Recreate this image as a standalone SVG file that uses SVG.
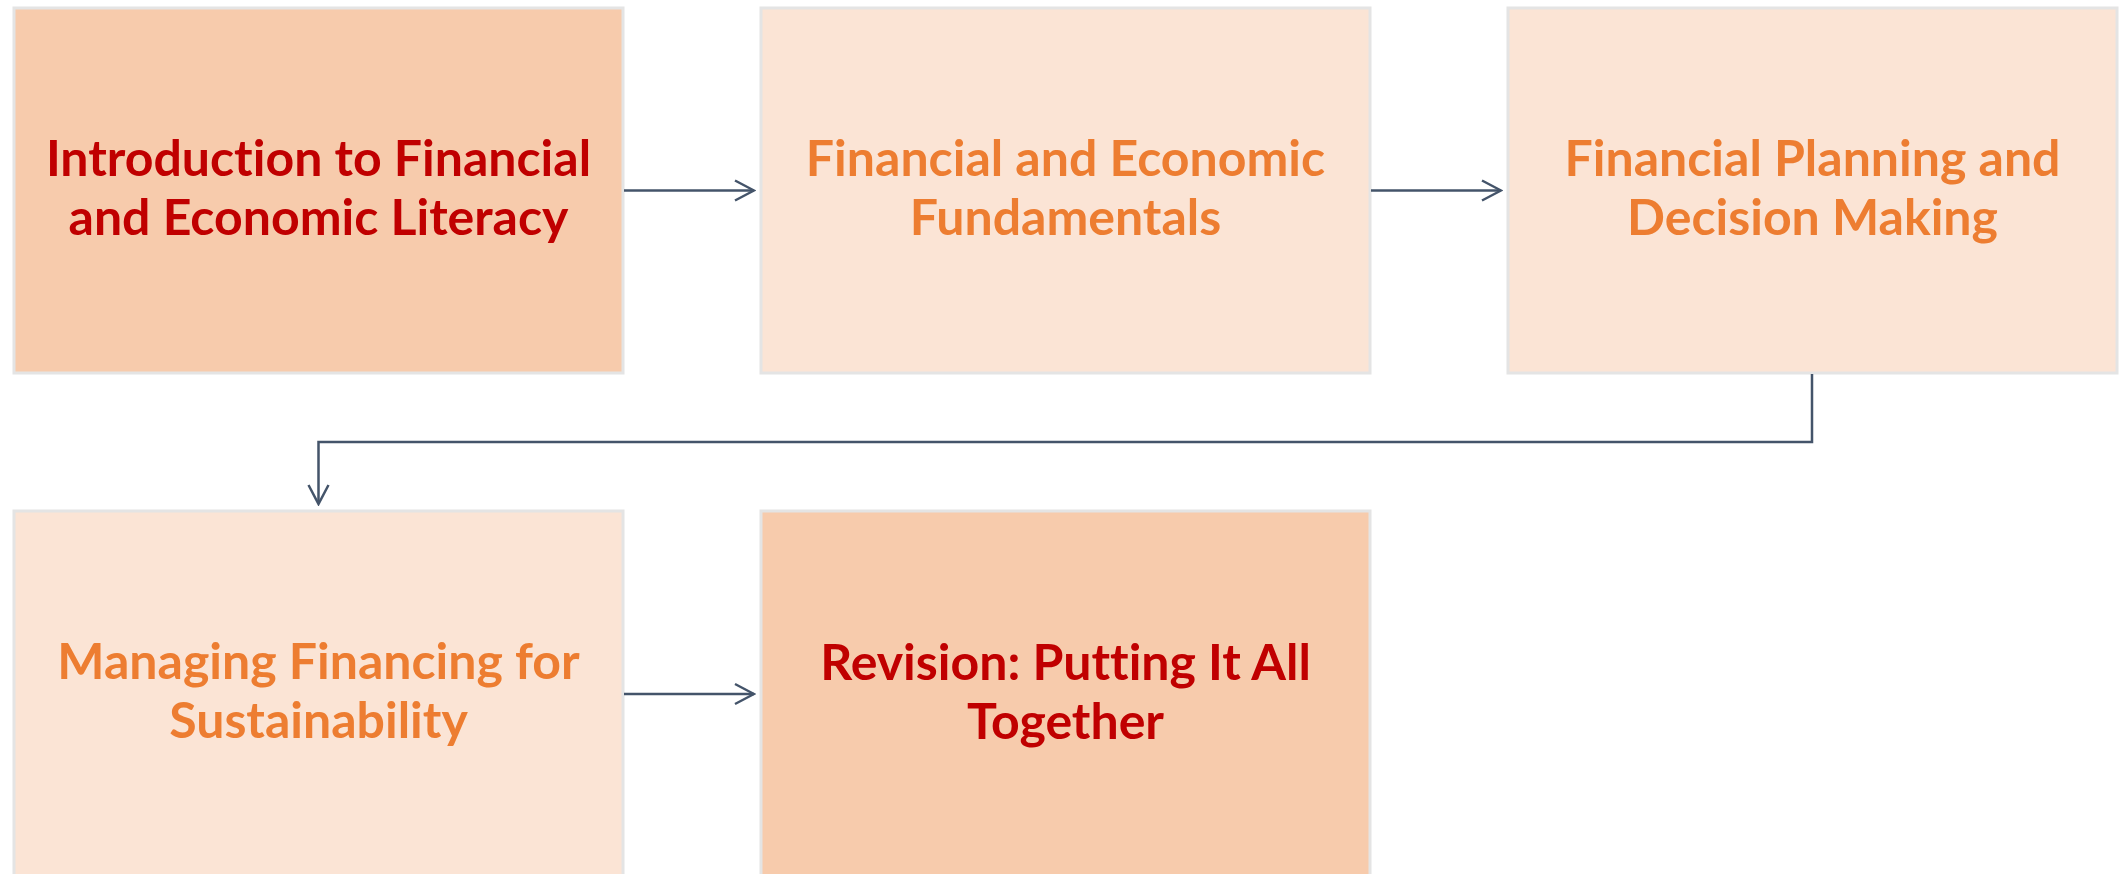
<svg xmlns="http://www.w3.org/2000/svg" width="2121" height="874" viewBox="0 0 2121 874">
  <style>
    .box { stroke: #e4e4e4; stroke-width: 3; }
    .dark { fill: #f7cbac; }
    .light { fill: #fbe4d5; }
    .label { font-family: Lato, "Liberation Sans", sans-serif; font-weight: bold; font-size: 50px; text-anchor: middle; font-variant-ligatures: none; }
    .red { fill: #c00000; }
    .orange { fill: #ed7d31; }
    .conn { fill: none; stroke: #44546a; stroke-width: 2.5; }
  </style>
  <defs>
    <marker id="chev" viewBox="0 0 22 24" refX="20" refY="12" markerWidth="22" markerHeight="24" markerUnits="userSpaceOnUse" orient="auto">
      <path d="M1,2 L20,12 L1,22" fill="none" stroke="#44546a" stroke-width="2.5"/>
    </marker>
  </defs>

  <rect width="2121" height="874" fill="#ffffff"/>

  <g id="node-intro">
    <rect class="box dark" x="14" y="8" width="609" height="365"/>
    <text class="label red" x="318.5" y="176">Introduction to Financial</text>
    <text class="label red" x="318.5" y="235">and Economic Literacy</text>
  </g>

  <g id="node-fundamentals">
    <rect class="box light" x="761" y="8" width="609" height="365"/>
    <text class="label orange" x="1065.5" y="176">Financial and Economic</text>
    <text class="label orange" x="1065.5" y="235">Fundamentals</text>
  </g>

  <g id="node-planning">
    <rect class="box light" x="1508" y="8" width="609" height="365"/>
    <text class="label orange" x="1812.5" y="176">Financial Planning and</text>
    <text class="label orange" x="1812.5" y="235">Decision Making</text>
  </g>

  <g id="node-managing">
    <rect class="box light" x="14" y="511" width="609" height="366"/>
    <text class="label orange" x="318.5" y="679">Managing Financing for</text>
    <text class="label orange" x="318.5" y="738">Sustainability</text>
  </g>

  <g id="node-revision">
    <rect class="box dark" x="761" y="511" width="609" height="366"/>
    <text class="label red" x="1065.5" y="680">Revision: Putting It All</text>
    <text class="label red" x="1065.5" y="739">Together</text>
  </g>

  <g id="connectors">
    <path class="conn" marker-end="url(#chev)" d="M624,190.5 H754"/>
    <path class="conn" marker-end="url(#chev)" d="M1371,190.5 H1501"/>
    <path class="conn" marker-end="url(#chev)" d="M1812,374 V442 H318.5 V504"/>
    <path class="conn" marker-end="url(#chev)" d="M624,694 H754"/>
  </g>
</svg>
